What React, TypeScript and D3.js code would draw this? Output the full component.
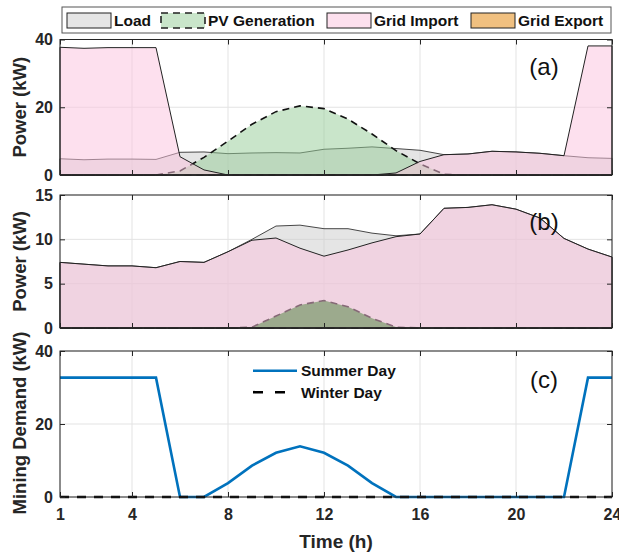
import React, { useRef, useEffect } from 'react';
import * as d3 from 'd3';

// hours of the day
const hours = d3.range(1, 25);
const xTicks = [1, 4, 8, 12, 16, 20, 24];

// (a) summer day, kW
const loadSummer = [4.8, 4.5, 4.7, 4.7, 4.6, 6.7, 6.8, 6.3, 6.5, 6.6, 6.5, 7.6, 7.9, 8.3, 7.8, 7.3, 6.0, 6.2, 7.0, 6.8, 6.4, 5.7, 5.1, 4.9];
const pvSummer = [0, 0, 0, 0, 0, 1.2, 5.2, 10.0, 15.0, 18.7, 20.4, 19.6, 16.5, 12.1, 7.2, 3.3, 0.2, 0, 0, 0, 0, 0, 0, 0];
const importSummer = [37.7, 37.4, 37.6, 37.6, 37.6, 5.4, 1.5, 0, 0, 0, 0, 0, 0, 0, 0.6, 4.0, 6.0, 6.2, 7.0, 6.8, 6.4, 5.7, 38.1, 38.1];
const exportSummer = [0, 0, 0, 0, 0, 0, 0, 0, 0, 0, 0, 0, 0, 0, 0, 0, 0, 0, 0, 0, 0, 0, 0, 0];

// (b) winter day, kW
const loadWinter = [7.4, 7.2, 7.0, 7.0, 6.8, 7.5, 7.4, 8.6, 10.0, 11.5, 11.6, 11.2, 11.2, 10.7, 10.4, 10.6, 13.5, 13.6, 13.9, 13.4, 12.4, 10.1, 8.9, 8.0];
const pvWinter = [0, 0, 0, 0, 0, 0, 0, 0, 0.1, 1.35, 2.6, 3.1, 2.4, 1.1, 0.1, 0, 0, 0, 0, 0, 0, 0, 0, 0];
const importWinter = [7.4, 7.2, 7.0, 7.0, 6.8, 7.5, 7.4, 8.6, 9.9, 10.15, 9.0, 8.1, 8.8, 9.6, 10.3, 10.6, 13.5, 13.6, 13.9, 13.4, 12.4, 10.1, 8.9, 8.0];
const exportWinter = [0, 0, 0, 0, 0, 0, 0, 0, 0, 0, 0, 0, 0, 0, 0, 0, 0, 0, 0, 0, 0, 0, 0, 0];

// (c) mining demand, kW
const miningSummer = [32.7, 32.7, 32.7, 32.7, 32.7, 0, 0, 3.8, 8.6, 12.1, 13.9, 12.1, 8.6, 3.8, 0, 0, 0, 0, 0, 0, 0, 0, 32.7, 32.7];
const miningWinter = [0, 0, 0, 0, 0, 0, 0, 0, 0, 0, 0, 0, 0, 0, 0, 0, 0, 0, 0, 0, 0, 0, 0, 0];

const legendNames = ['Load', 'PV Generation', 'Grid Import', 'Grid Export'];
const miningNames = ['Summer Day', 'Winter Day'];

const App = () => {
    const svgRef = useRef<SVGSVGElement>(null);

    useEffect(() => {
        if (!svgRef.current) return;
        const svg = d3.select(svgRef.current);
        svg.selectAll('*').remove();

        const font = '"Liberation Sans", Arial, Helvetica, sans-serif';
        const axisColor = '#262626';
        const x = d3.scaleLinear().domain([1, 24]).range([60, 612]);

        const fills = {
            load: 'rgba(204,204,204,0.5)',
            pv: 'rgba(147,203,149,0.5)',
            imp: 'rgba(251,193,221,0.5)',
            exp: 'rgba(225,129,1,0.5)',
        };

        const panels = [
            { top: 39.5, bottom: 175, max: 40, ticks: [0, 20, 40], tag: '(a)', load: loadSummer, pv: pvSummer, imp: importSummer, exp: exportSummer, pvFill: fills.pv },
            { top: 195, bottom: 328, max: 15, ticks: [0, 5, 10, 15], tag: '(b)', load: loadWinter, pv: pvWinter, imp: importWinter, exp: exportWinter, pvFill: 'rgb(61,147,61)' },
        ];

        const drawFrame = (top: number, bottom: number, y: d3.ScaleLinear<number, number>, ticks: number[], showX: boolean) => {
            const g = svg.append('g');
            // grid
            g.selectAll('.vg').data(xTicks).enter().append('line')
                .attr('x1', d => x(d)).attr('x2', d => x(d))
                .attr('y1', top).attr('y2', bottom)
                .attr('stroke', '#e3e3e3');
            g.selectAll('.hg').data(ticks).enter().append('line')
                .attr('x1', 60).attr('x2', 612)
                .attr('y1', d => y(d)).attr('y2', d => y(d))
                .attr('stroke', '#e3e3e3');
            return g;
        };

        const drawAxes = (top: number, bottom: number, y: d3.ScaleLinear<number, number>, ticks: number[], showX: boolean) => {
            const g = svg.append('g');
            const left = g.append('g').attr('transform', 'translate(60,0)')
                .call(d3.axisLeft(y).tickValues(ticks).tickSize(-5).tickSizeOuter(0).tickPadding(7));
            g.append('g').attr('transform', 'translate(612,0)')
                .call(d3.axisRight(y).tickValues(ticks).tickSize(-5).tickSizeOuter(0).tickFormat(() => ''));
            g.append('g').attr('transform', `translate(0,${top})`)
                .call(d3.axisTop(x).tickValues(xTicks).tickSize(-5).tickSizeOuter(0).tickFormat(() => ''));
            const bot = g.append('g').attr('transform', `translate(0,${bottom})`)
                .call(d3.axisBottom(x).tickValues(xTicks).tickSize(-5).tickSizeOuter(0).tickPadding(12)
                    .tickFormat(d => (showX ? String(d) : '')));
            g.selectAll('.domain').remove();
            g.selectAll('.tick line').attr('stroke', axisColor);
            g.selectAll('.tick text')
                .attr('fill', axisColor)
                .style('font-family', font)
                .style('font-size', '16px')
                .style('font-weight', 'bold');
            g.append('rect')
                .attr('x', 60).attr('y', top)
                .attr('width', 552).attr('height', bottom - top)
                .attr('fill', 'none').attr('stroke', axisColor);
            return { left, bot };
        };

        panels.forEach(p => {
            const y = d3.scaleLinear().domain([0, p.max]).range([p.bottom, p.top]);
            drawFrame(p.top, p.bottom, y, p.ticks, false);
            const area = d3.area<number>()
                .x((_, i) => x(hours[i]))
                .y0(y(0))
                .y1(d => y(d));
            const layers = [
                { data: p.load, fill: fills.load, stroke: '#333', width: 0.9, dash: null },
                { data: p.pv, fill: p.pvFill, stroke: '#111', width: 1.6, dash: '7,5' },
                { data: p.imp, fill: fills.imp, stroke: '#222', width: 1, dash: null },
                { data: p.exp, fill: fills.exp, stroke: '#222', width: 1, dash: null },
            ];
            layers.forEach(l => {
                svg.append('path')
                    .attr('d', area(l.data) as string)
                    .attr('fill', l.fill)
                    .attr('stroke', l.stroke)
                    .attr('stroke-width', l.width)
                    .attr('stroke-dasharray', l.dash);
            });
            drawAxes(p.top, p.bottom, y, p.ticks, false);
            svg.append('text')
                .attr('x', 544).attr('y', p.top + 35)
                .attr('text-anchor', 'middle')
                .style('font-family', font).style('font-size', '24px')
                .attr('fill', '#111')
                .text(p.tag);
            svg.append('text')
                .attr('transform', `translate(25.5,${(p.top + p.bottom) / 2}) rotate(-90)`)
                .attr('text-anchor', 'middle')
                .style('font-family', font).style('font-size', '18.5px').style('font-weight', 'bold')
                .attr('fill', axisColor)
                .text('Power (kW)');
        });

        // panel (c)
        const cTop = 351, cBottom = 497;
        const yc = d3.scaleLinear().domain([0, 40]).range([cBottom, cTop]);
        drawFrame(cTop, cBottom, yc, [0, 20, 40], true);
        const line = d3.line<number>().x((_, i) => x(hours[i])).y(d => yc(d));
        svg.append('path').attr('d', line(miningSummer) as string)
            .attr('fill', 'none').attr('stroke', '#0072BD').attr('stroke-width', 2.6);
        svg.append('path').attr('d', line(miningWinter) as string)
            .attr('fill', 'none').attr('stroke', '#000').attr('stroke-width', 2.6)
            .attr('stroke-dasharray', '9,8');
        drawAxes(cTop, cBottom, yc, [0, 20, 40], true);

        svg.append('text')
            .attr('x', 544).attr('y', cTop + 37)
            .attr('text-anchor', 'middle')
            .style('font-family', font).style('font-size', '24px')
            .attr('fill', '#111')
            .text('(c)');
        svg.append('text')
            .attr('transform', `translate(25.5,423) rotate(-90)`)
            .attr('text-anchor', 'middle')
            .style('font-family', font).style('font-size', '18.5px').style('font-weight', 'bold')
            .attr('fill', axisColor)
            .text('Mining Demand (kW)');
        svg.append('text')
            .attr('x', 336).attr('y', 547.5)
            .attr('text-anchor', 'middle')
            .style('font-family', font).style('font-size', '19px').style('font-weight', 'bold')
            .attr('fill', axisColor)
            .text('Time (h)');

        // mining legend
        const ml = svg.append('g');
        miningNames.forEach((name, i) => {
            const ly = 370.7 + i * 21.5;
            ml.append('line')
                .attr('x1', 253).attr('x2', 297).attr('y1', ly).attr('y2', ly)
                .attr('stroke', i === 0 ? '#0072BD' : '#000')
                .attr('stroke-width', 2.6)
                .attr('stroke-dasharray', i === 0 ? null : '10,12');
            ml.append('text')
                .attr('x', 301).attr('y', ly + 5.5)
                .style('font-family', font).style('font-size', '15.5px').style('font-weight', 'bold')
                .attr('fill', '#111')
                .text(name);
        });

        // top legend
        const lg = svg.append('g');
        lg.append('rect')
            .attr('x', 62).attr('y', 7).attr('width', 549).attr('height', 26)
            .attr('fill', '#fff').attr('stroke', '#555');
        const swatchX = [67, 161, 327, 471];
        const swatchFill = [fills.load, fills.pv, fills.imp, fills.exp];
        legendNames.forEach((name, i) => {
            lg.append('rect')
                .attr('x', swatchX[i]).attr('y', 13).attr('width', 44).attr('height', 15)
                .attr('fill', swatchFill[i])
                .attr('stroke', '#222')
                .attr('stroke-width', i === 1 ? 1.6 : 1)
                .attr('stroke-dasharray', i === 1 ? '7,5' : null);
            lg.append('text')
                .attr('x', swatchX[i] + 47).attr('y', 26)
                .style('font-family', font).style('font-size', '15.5px').style('font-weight', 'bold')
                .attr('fill', '#111')
                .text(name);
        });
    }, []);

    return (
        <svg ref={svgRef} width={619} height={554}
            style={{ position: 'absolute', left: 0, top: 0, background: '#fff' }} />
    );
};

export default App;
